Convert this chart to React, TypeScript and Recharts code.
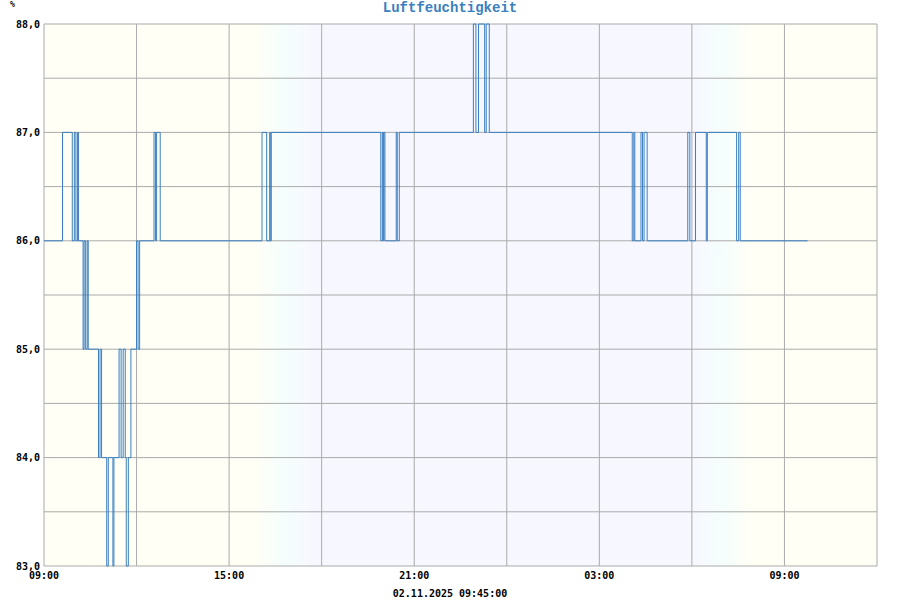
import { LineChart, Line, XAxis, YAxis, CartesianGrid } from "recharts";

// minutes after 02.11.2025 09:00 (previous day start) where the reading changes
const changeMinutes = [
  0, 36, 55, 59, 62, 65, 67, 76, 78, 81, 84, 86, 106, 109, 112, 122, 125, 134, 136,
  146, 150, 154, 158, 160, 164, 169, 180, 183, 186, 214, 217, 219, 226,
  424, 433, 439, 440, 442, 655, 658, 660, 661, 663, 685, 687, 691,
  835, 840, 845, 857, 860, 866, 1144, 1147, 1149, 1161, 1164, 1167, 1173,
  1252, 1256, 1267, 1288, 1290, 1347, 1351, 1354, 1485,
];
const humidity = [
  86, 87, 86, 87, 86, 87, 86, 85, 86, 85, 86, 85, 84, 85, 84, 83, 84, 83, 84,
  85, 84, 85, 84, 83, 84, 85, 86, 85, 86, 87, 86, 87, 86,
  87, 86, 87, 86, 87, 86, 87, 86, 87, 86, 87, 86, 87,
  88, 87, 88, 87, 88, 87, 86, 87, 86, 87, 86, 87, 86,
  87, 86, 87, 86, 87, 86, 87, 86, 86,
];

const timeTicks = [0, 180, 360, 540, 720, 900, 1080, 1260, 1440, 1620];
const timeLabels: Record<number, string> = { 0: "09:00", 360: "15:00", 720: "21:00", 1080: "03:00", 1440: "09:00" };
const valueTicks = [83, 83.5, 84, 84.5, 85, 85.5, 86, 86.5, 87, 87.5, 88];

// day / night shading (minutes)
const dusk = [411, 518];
const dawn = [1267, 1374];
const END = 1620;

const data = changeMinutes.map((t, i) => ({ t, rh: humidity[i] }));

const DAY = "#fffff6";
const NIGHT = "#f7f8ff";
const TWILIGHT = "#f5fefc";
const mono = "'DejaVu Sans Mono', 'Liberation Mono', monospace";
const frac = (m: number) => m / END;

export default function App() {
  return (
    <div style={{ position: "absolute", left: 0, top: 0, width: 900, height: 600, background: "#fff" }}>
      <div style={{ position: "absolute", left: 0, top: 0, width: 900, textAlign: "center", fontFamily: "'Liberation Mono', monospace", fontWeight: "bold", fontSize: 14, color: "#3a80c0", lineHeight: "16px" }}>
        Luftfeuchtigkeit
      </div>
      <div style={{ position: "absolute", left: 10, top: 0, fontFamily: mono, fontSize: 8, fontWeight: "bold", color: "#000" }}>%</div>
      <LineChart width={900} height={600} data={data} margin={{ top: 24, right: 23, bottom: 14, left: 4 }}>
        <defs>
          <linearGradient id="bgGrad" x1="0" y1="0" x2="1" y2="0">
            <stop offset={frac(0)} stopColor={DAY} />
            <stop offset={frac(dusk[0])} stopColor={DAY} />
            <stop offset={frac((dusk[0] + dusk[1]) / 2)} stopColor={TWILIGHT} />
            <stop offset={frac(dusk[1])} stopColor={NIGHT} />
            <stop offset={frac(dawn[0])} stopColor={NIGHT} />
            <stop offset={frac((dawn[0] + dawn[1]) / 2)} stopColor={TWILIGHT} />
            <stop offset={frac(dawn[1])} stopColor={DAY} />
            <stop offset={1} stopColor={DAY} />
          </linearGradient>
        </defs>
        <CartesianGrid stroke="#aaaaaa" strokeWidth={1} fill="url(#bgGrad)" fillOpacity={1} />
        <XAxis
          dataKey="t"
          type="number"
          domain={[0, END]}
          ticks={timeTicks}
          interval={0}
          tickFormatter={(v: number) => timeLabels[v] ?? ""}
          axisLine={false}
          tickLine={false}
          tickSize={3}
          tickMargin={3}
          height={20}
          tick={{ fontFamily: mono, fontSize: 10, fontWeight: "bold", fill: "#000" }}
        />
        <YAxis
          type="number"
          domain={[83, 88]}
          ticks={valueTicks}
          interval={0}
          tickFormatter={(v: number) => (Number.isInteger(v) ? v.toFixed(1).replace(".", ",") : "")}
          axisLine={false}
          tickLine={false}
          tickSize={4}
          tickMargin={0}
          width={40}
          tick={{ fontFamily: mono, fontSize: 10, fontWeight: "bold", fill: "#000" }}
        />
        <Line
          type="stepAfter"
          dataKey="rh"
          stroke="#3a7fc0"
          strokeWidth={1}
          dot={false}
          isAnimationActive={false}
        />
      </LineChart>
      <div style={{ position: "absolute", left: 0, top: 588, width: 900, textAlign: "center", fontFamily: mono, fontSize: 10, fontWeight: "bold", color: "#000", lineHeight: "12px" }}>
        02.11.2025 09:45:00
      </div>
    </div>
  );
}
